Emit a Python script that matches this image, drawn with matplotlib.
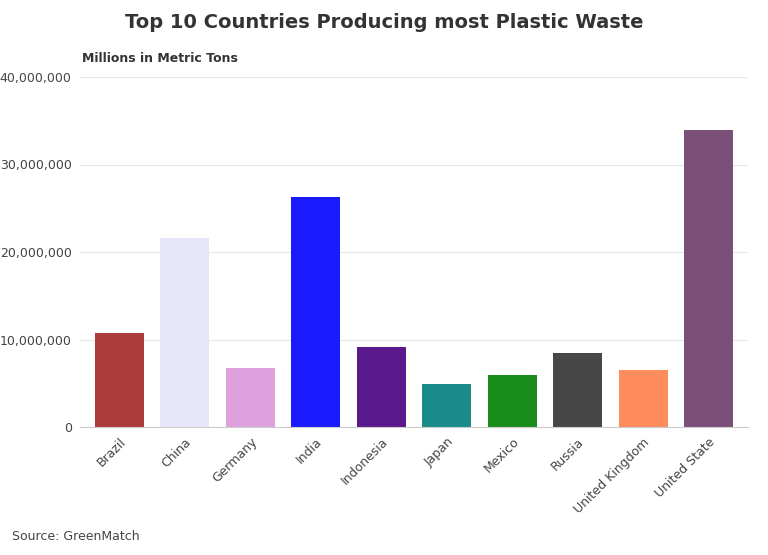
import matplotlib.pyplot as plt
from matplotlib.ticker import FuncFormatter

countries = ['Brazil', 'China', 'Germany', 'India', 'Indonesia', 'Japan',
             'Mexico', 'Russia', 'United Kingdom', 'United State']
waste = [10.7e6, 21.6e6, 6.7e6, 26.3e6, 9.1e6, 4.9e6, 5.9e6, 8.5e6, 6.5e6, 34.0e6]
colors = ['#ae3b3b', '#e6e6fa', '#dda0dd', '#1a1aff', '#5a1a8c', '#1a8c8c',
          '#1a8c1a', '#474747', '#ff8c5c', '#7b5078']

fig = plt.figure(figsize=(7.68, 5.55), dpi=100)
ax = fig.add_axes([80 / 768, 1 - 427 / 555, 668 / 768, 350 / 555])

ax.bar(range(len(countries)), waste, color=colors, width=0.75, zorder=2)
ax.set_xlim(-0.6, len(countries) - 0.4)
ax.set_ylim(0, 40e6)
ax.set_yticks([0, 10e6, 20e6, 30e6, 40e6])
ax.yaxis.set_major_formatter(FuncFormatter(lambda v, p: f'{int(v):,}'))
ax.set_xticks(range(len(countries)))
ax.set_xticklabels(countries, rotation=45, ha='right', rotation_mode='anchor')
ax.grid(axis='y', color='#e6e6e6', linewidth=0.8, zorder=0)
for s in ['top', 'right', 'left']:
    ax.spines[s].set_visible(False)
ax.spines['bottom'].set_color('#cccccc')
ax.tick_params(axis='both', length=0, labelsize=9, colors='#444444', pad=6)

fig.text(0.5, 1 - 22 / 555, 'Top 10 Countries Producing most Plastic Waste',
         ha='center', va='center', fontsize=14, fontweight='bold', color='#333333')
fig.text(82 / 768, 1 - 59 / 555, 'Millions in Metric Tons', ha='left', va='center',
         fontsize=9, fontweight='bold', color='#333333')
fig.text(12 / 768, 1 - 537 / 555, 'Source: GreenMatch', ha='left', va='center',
         fontsize=9, color='#444444')

plt.savefig('out.png', dpi=100)
